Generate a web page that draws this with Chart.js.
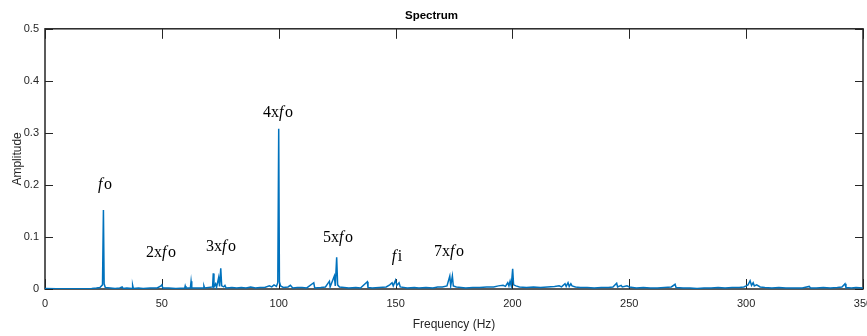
<!DOCTYPE html>
<html>
<head>
<meta charset="utf-8">
<script src="https://cdn.jsdelivr.net/npm/chart.js@4.4.1/dist/chart.umd.min.js"></script>
<style>
  html, body { margin: 0; padding: 0; background: #fff; overflow: hidden; }
  #wrap { position: relative; width: 867px; height: 336px; }
</style>
</head>
<body>
<div id="wrap"><canvas id="spectrum"></canvas></div>
<script>
// spectrum (Hz, amplitude)
const freqHz = [
  0, 5, 10, 15, 20, 22, 23.5, 24.6, 25, 25.3, 25.8, 28, 30, 32, 33, 33.4, 35,
  37.3, 37.5, 37.8, 40, 42, 45, 48, 49.6, 50, 50.4, 53, 56, 59.8, 60, 60.3,
  62.2, 62.5, 62.8, 65, 67.8, 68, 68.3, 70, 71.7, 72, 72.3, 73, 73.4, 74.3,
  74.7, 75.2, 75.6, 76.5, 77, 77.5, 80, 82, 84, 86, 88, 90, 92, 94, 96, 97,
  98, 99, 99.6, 100, 100.3, 100.8, 102, 104, 105, 106, 108, 110, 112, 115,
  115.4, 118, 120, 121.7, 122, 123.8, 124.2, 124.8, 125.2, 126, 128, 130, 133,
  135, 137.9, 138.2, 140, 143, 146, 147.5, 148.5, 149, 150, 150.5, 151.5, 152,
  155, 158, 160, 163, 166, 168, 170, 172, 173.2, 173.6, 174.3, 174.7, 176,
  178, 180, 183, 186, 189, 192, 194, 196, 197, 198, 198.5, 199, 199.5, 200.1,
  200.5, 201.5, 203, 206, 209, 212, 215, 218, 220, 221, 222.5, 223, 223.8,
  224.3, 225, 225.5, 227, 229, 232, 235, 238, 241, 243, 244.6, 245, 246.5,
  247, 249, 250, 253, 256, 259, 262, 265, 268, 269.6, 270, 273, 276, 279, 282,
  285, 288, 291, 294, 297, 299, 300, 300.8, 301.7, 302.3, 303, 303.5, 304.5,
  306, 308, 311, 314, 317, 320, 324, 327, 327.5, 330, 333, 336, 339, 341,
  342.3, 342.7, 345, 347, 350
];
const amplitude = [
  0.001, 0.0005, 0.0005, 0.0005, 0.001, 0.002, 0.003, 0.008, 0.152, 0.01, 0.003, 0.002, 0.001, 0.002, 0.004, 0.001, 0.002,
  0.001, 0.007, 0.001, 0.002, 0.001, 0.002, 0.002, 0.006, 0.008, 0.002, 0.002, 0.001, 0.002, 0.006, 0.002,
  0.002, 0.015, 0.002, 0.002, 0.002, 0.006, 0.002, 0.003, 0.004, 0.030, 0.004, 0.010, 0.003, 0.022,
  0.005, 0.040, 0.006, 0.004, 0.007, 0.002, 0.003, 0.002, 0.003, 0.002, 0.004, 0.002, 0.003, 0.003, 0.006, 0.004,
  0.008, 0.005, 0.012, 0.308, 0.014, 0.006, 0.003, 0.004, 0.007, 0.002, 0.003, 0.003, 0.002, 0.012,
  0.002, 0.003, 0.004, 0.015, 0.004, 0.025, 0.006, 0.061, 0.008, 0.004, 0.003, 0.002, 0.003,
  0.002, 0.014, 0.003, 0.002, 0.003, 0.004, 0.008, 0.012, 0.006, 0.017, 0.007, 0.012, 0.004,
  0.002, 0.003, 0.002, 0.003, 0.002, 0.004, 0.004, 0.006, 0.025, 0.006, 0.025, 0.006, 0.004,
  0.003, 0.002, 0.003, 0.003, 0.004, 0.004, 0.006, 0.007, 0.005, 0.012, 0.006, 0.015, 0.006, 0.039,
  0.008, 0.006, 0.004, 0.003, 0.004, 0.003, 0.004, 0.005, 0.006, 0.004, 0.010, 0.005, 0.012,
  0.005, 0.010, 0.006, 0.004, 0.003, 0.003, 0.002, 0.003, 0.003, 0.004, 0.011, 0.004, 0.007,
  0.004, 0.006, 0.004, 0.002, 0.003, 0.002, 0.002, 0.003, 0.004, 0.009, 0.003, 0.002, 0.002, 0.001, 0.002,
  0.002, 0.003, 0.002, 0.003, 0.003, 0.004, 0.006, 0.008, 0.016, 0.007, 0.012, 0.006, 0.008,
  0.004, 0.003, 0.002, 0.003, 0.002, 0.002, 0.002, 0.005, 0.002, 0.002, 0.003, 0.002, 0.003, 0.004,
  0.010, 0.003, 0.002, 0.003, 0.002
];

// harmonic labels: text, position in data units (centre)
const noteText = ["fo", "2xfo", "3xfo", "4xfo", "5xfo", "fi", "7xfo"];
const noteFreq = [25.7, 49.6, 75.3, 99.7, 125.4, 150.6, 172.9];
const noteAmp = [0.200, 0.069, 0.081, 0.338, 0.098, 0.062, 0.071];

const xTicks = [0, 50, 100, 150, 200, 250, 300, 350];
const yTicks = [0, 0.1, 0.2, 0.3, 0.4, 0.5];

const AXIS_COLOR = "#262626";
const LINE_COLOR = "#0072BD";
const SANS = "'Liberation Sans', Arial, Helvetica, sans-serif";
const SERIF = "'Liberation Serif', 'Times New Roman', serif";

const points = freqHz.map((f, i) => ({ x: f, y: amplitude[i] }));

// box + inward ticks, drawn under the data like matlab's default layer
const frameTicks = {
  id: "frameTicks",
  beforeDatasetsDraw(chart) {
    const { ctx, chartArea: a, scales } = chart;
    ctx.save();
    ctx.strokeStyle = AXIS_COLOR;
    ctx.lineWidth = 1;
    xTicks.forEach((v) => {
      const px = Math.round(scales.x.getPixelForValue(v)) + 0.5;
      ctx.beginPath();
      ctx.moveTo(px, a.bottom);
      ctx.lineTo(px, a.bottom - 10);
      ctx.moveTo(px, a.top);
      ctx.lineTo(px, a.top + 10);
      ctx.stroke();
    });
    yTicks.forEach((v) => {
      const py = Math.round(scales.y.getPixelForValue(v)) + 0.5;
      ctx.beginPath();
      ctx.moveTo(a.left, py);
      ctx.lineTo(a.left + 8, py);
      ctx.moveTo(a.right, py);
      ctx.lineTo(a.right - 8, py);
      ctx.stroke();
    });
    ctx.lineWidth = 1.5;
    ctx.strokeRect(a.left, a.top, a.right - a.left, a.bottom - a.top);
    ctx.restore();
  },
  afterDatasetsDraw(chart) {
    const { ctx, scales } = chart;
    ctx.save();
    ctx.fillStyle = "#000";
    ctx.textBaseline = "middle";
    ctx.textAlign = "left";
    noteText.forEach((txt, i) => {
      const cx = scales.x.getPixelForValue(noteFreq[i]);
      const cy = scales.y.getPixelForValue(noteAmp[i]);
      const k = txt.indexOf("f");
      const parts = [
        { s: txt.slice(0, k), f: `16px ${SERIF}` },
        { s: "f", f: `italic 16px ${SERIF}` },
        { s: txt.slice(k + 1), f: `16px ${SERIF}` },
      ];
      let w = 0;
      parts.forEach((p) => { ctx.font = p.f; w += ctx.measureText(p.s).width + (p.s === "f" ? 1.5 : 0); });
      let x = cx - w / 2;
      parts.forEach((p) => {
        ctx.font = p.f;
        ctx.fillText(p.s, x, cy);
        x += ctx.measureText(p.s).width + (p.s === "f" ? 1.5 : 0);
      });
    });
    ctx.restore();
  },
};

new Chart(document.getElementById("spectrum"), {
  type: "line",
  data: {
    datasets: [
      {
        data: points,
        borderColor: LINE_COLOR,
        borderWidth: 1.5,
        pointRadius: 0,
        tension: 0,
        fill: false,
      },
    ],
  },
  options: {
    responsive: true,
    maintainAspectRatio: false,
    devicePixelRatio: 1,
    animation: false,
    layout: { padding: { left: 0, right: 4, top: 0, bottom: 0 } },
    plugins: {
      legend: { display: false },
      tooltip: { enabled: false },
      title: {
        display: true,
        text: "Spectrum",
        color: "#000",
        font: { family: SANS, size: 11.5, weight: "bold" },
        padding: { top: 9, bottom: 6 },
      },
    },
    scales: {
      x: {
        type: "linear",
        min: 0,
        max: 350,
        afterBuildTicks: (s) => { s.ticks = xTicks.map((v) => ({ value: v })); },
        afterFit: (s) => { s.paddingLeft = 0; s.paddingRight = 0; s.height = 47; },
        grid: { display: false, drawTicks: false },
        border: { display: false },
        ticks: { color: AXIS_COLOR, font: { family: SANS, size: 11 }, padding: 8, maxRotation: 0, autoSkip: false },
        title: {
          display: true,
          text: "Frequency (Hz)",
          color: AXIS_COLOR,
          font: { family: SANS, size: 12 },
          padding: { top: 0, bottom: 4 },
        },
      },
      y: {
        min: 0,
        max: 0.5,
        afterBuildTicks: (s) => { s.ticks = yTicks.map((v) => ({ value: v })); },
        afterFit: (s) => { s.width = 45; },
        grid: { display: false, drawTicks: false },
        border: { display: false },
        ticks: { color: AXIS_COLOR, font: { family: SANS, size: 11 }, padding: 6 },
        title: {
          display: true,
          text: "Amplitude",
          color: AXIS_COLOR,
          font: { family: SANS, size: 12 },
          padding: { top: 10, bottom: 0 },
        },
      },
    },
  },
  plugins: [frameTicks],
});
</script>
</body>
</html>
